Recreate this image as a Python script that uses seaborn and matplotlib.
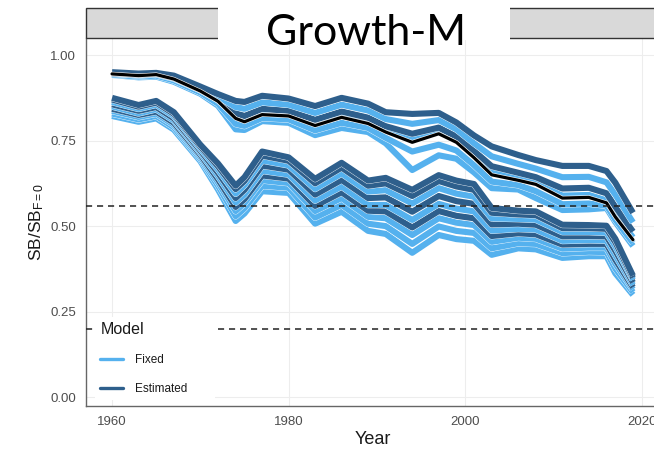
import matplotlib
matplotlib.use("Agg")
import numpy as np
import pandas as pd
import seaborn as sns
import matplotlib.pyplot as plt
from matplotlib import patheffects as pe
from matplotlib.lines import Line2D
from matplotlib.patches import Rectangle

# ---------------- data ----------------
YEARS = [1960, 1963, 1965, 1967, 1970, 1972, 1974, 1975, 1977, 1980, 1983, 1986, 1989,
         1991, 1994, 1997, 1999, 2001, 2003, 2006, 2008, 2011, 2014, 2016, 2017, 2019]

# upper bundle
UP_BASE = [.945, .940, .943, .930, .895, .865, .815, .805, .826, .822, .794, .818, .800,
           .775, .745, .770, .745, .700, .650, .634, .622, .582, .584, .568, .527, .460]
UP_EST_1 = [.950, .946, .948, .940, .908, .886, .866, .863, .881, .873, .851, .875, .858,
            .833, .828, .831, .803, .765, .733, .708, .693, .676, .676, .661, .627, .539]
UP_FIX_1 = [.949, .945, .947, .937, .903, .879, .848, .843, .862, .855, .831, .855, .838,
            .813, .799, .810, .783, .742, .704, .682, .668, .643, .644, .628, .592, .511]
UP_EST_2 = [.947, .943, .946, .934, .899, .871, .830, .822, .843, .837, .811, .835, .817,
            .792, .770, .788, .762, .720, .675, .656, .643, .610, .612, .596, .557, .484]
UP_FIX_2 = [.946, .941, .944, .932, .898, .869, .822, .812, .833, .829, .801, .825, .807,
            .782, .752, .777, .752, .707, .657, .641, .629, .589, .591, .575, .534, .467]
UP_FIX_3 = [.943, .937, .940, .926, .891, .858, .799, .793, .816, .812, .780, .802, .787,
            .758, .718, .738, .721, .678, .630, .620, .602, .564, .566, .560, .519, .451]
UP_FIX_4 = [.942, .935, .937, .922, .887, .852, .783, .781, .807, .802, .766, .787, .775,
            .742, .664, .707, .697, .657, .611, .607, .582, .547, .549, .553, .512, .442]

# lower bundle
LO_EST_1 = [.875, .854, .866, .833, .738, .683, .618, .643, .718, .701, .638, .685, .633,
            .641, .606, .649, .633, .623, .553, .545, .543, .504, .503, .501, .463, .355]
LO_EST_2 = [.870, .849, .861, .828, .733, .675, .608, .632, .706, .691, .625, .671, .618,
            .625, .588, .632, .616, .606, .539, .534, .532, .494, .494, .492, .453, .349]
LO_FIX_1 = [.863, .843, .855, .822, .727, .666, .595, .620, .692, .678, .609, .654, .601,
            .605, .566, .611, .595, .586, .523, .521, .519, .483, .483, .481, .441, .343]
LO_EST_3 = [.856, .837, .848, .815, .721, .656, .582, .606, .677, .665, .592, .635, .582,
            .584, .542, .588, .573, .565, .505, .507, .504, .470, .471, .470, .428, .335]
LO_FIX_2 = [.850, .830, .842, .809, .715, .647, .569, .592, .662, .651, .575, .616, .562,
            .562, .518, .565, .551, .543, .487, .492, .490, .457, .459, .458, .415, .328]
LO_EST_4 = [.843, .825, .835, .802, .709, .637, .556, .579, .648, .639, .559, .599, .545,
            .543, .496, .544, .530, .523, .471, .479, .476, .446, .448, .448, .402, .321]
LO_FIX_3 = [.837, .819, .829, .796, .703, .628, .544, .567, .634, .626, .544, .582, .527,
            .523, .474, .523, .510, .503, .454, .466, .463, .434, .437, .437, .390, .315]
LO_FIX_4 = [.829, .812, .822, .789, .697, .618, .529, .552, .618, .612, .525, .562, .507,
            .500, .448, .499, .486, .480, .435, .450, .448, .421, .425, .424, .376, .307]
LO_FIX_5 = [.822, .805, .815, .782, .690, .607, .515, .537, .602, .597, .507, .542, .486,
            .477, .422, .474, .462, .457, .416, .435, .432, .407, .412, .412, .362, .299]

MODELS = ["Fixed", "Estimated"]
REF_LINES = [0.56, 0.20]
X_TICKS = [1960, 1980, 2000, 2020]
Y_TICKS = [0.00, 0.25, 0.50, 0.75, 1.00]
Y_TICK_LABELS = ["0.00", "0.25", "0.50", "0.75", "1.00"]
TITLE = "Growth-M"

# drawing order (name, model, values)
SERIES = [
    ("lo_f5", "Fixed", LO_FIX_5), ("lo_f4", "Fixed", LO_FIX_4), ("lo_f3", "Fixed", LO_FIX_3),
    ("lo_e4", "Estimated", LO_EST_4), ("lo_f2", "Fixed", LO_FIX_2), ("lo_e3", "Estimated", LO_EST_3),
    ("lo_f1", "Fixed", LO_FIX_1), ("lo_e2", "Estimated", LO_EST_2), ("lo_e1", "Estimated", LO_EST_1),
    ("up_f4", "Fixed", UP_FIX_4), ("up_f3", "Fixed", UP_FIX_3), ("up_f2", "Fixed", UP_FIX_2),
    ("up_e2", "Estimated", UP_EST_2), ("up_f1", "Fixed", UP_FIX_1), ("up_e1", "Estimated", UP_EST_1),
]

rows = []
for name, model, vals in SERIES:
    for yr, v in zip(YEARS, vals):
        rows.append({"run": name, "Model": model, "Year": yr, "SB": v})
df = pd.DataFrame(rows)
base_df = pd.DataFrame({"Year": YEARS, "SB": UP_BASE})

# ---------------- style ----------------
sns.set_theme(style="white")
plt.rcParams["font.family"] = ["Liberation Sans", "DejaVu Sans"]
plt.rcParams["mathtext.fontset"] = "custom"
plt.rcParams["mathtext.rm"] = "Liberation Sans"
plt.rcParams["mathtext.it"] = "Liberation Sans:italic"
plt.rcParams["mathtext.bf"] = "Liberation Sans:bold"

LIGHT = "#55B1EE"
DARK = "#2E5F8C"
PAL = {"Fixed": LIGHT, "Estimated": DARK}

fig = plt.figure(figsize=(6.54, 4.63), dpi=100)
ax = fig.add_axes([86 / 654, (463 - 406) / 463, (659 - 86) / 654, (406 - 38) / 463])

ax.grid(True, color="#EDEDED", lw=0.8)
ax.set_axisbelow(True)

LW = 4.4
for name, model, _ in SERIES:
    sub = df[df["run"] == name]
    sns.lineplot(data=sub, x="Year", y="SB", color=PAL[model], lw=LW, ax=ax,
                 estimator=None, legend=False)
for ln in ax.lines:
    ln.set_path_effects([pe.Stroke(linewidth=LW + 0.5, foreground="white"), pe.Normal()])
    ln.set_solid_joinstyle("round")
    ln.set_solid_capstyle("butt")

sns.lineplot(data=base_df, x="Year", y="SB", color="black", lw=2.3, ax=ax,
             estimator=None, legend=False)
ax.lines[-1].set_path_effects([pe.Stroke(linewidth=3.1, foreground="white"), pe.Normal()])

for yv in REF_LINES:
    ax.axhline(yv, color="#222222", lw=1.1, ls=(0, (4, 3.2)), zorder=3)

ax.set_xlim(1957.05, 2021.95)
ax.set_ylim(-0.026, 1.05)
ax.set_xticks(X_TICKS)
ax.set_yticks(Y_TICKS)
ax.set_yticklabels(Y_TICK_LABELS)
ax.tick_params(axis="both", length=4, width=0.8, color="#555555", labelcolor="#4D4D4D",
               labelsize=9.5, pad=3)
for side in ["top", "right"]:
    ax.spines[side].set_visible(False)
for side in ["left", "bottom"]:
    ax.spines[side].set_color("#666666")
    ax.spines[side].set_linewidth(1.0)

ax.set_xlabel("Year", fontsize=13, color="#1A1A1A", labelpad=2)
ax.set_ylabel(r"SB/SB$_{\mathrm{F=0}}$", fontsize=12.5, color="#1A1A1A", labelpad=3)

handles = [Line2D([0], [0], color=PAL[m], lw=2.4) for m in MODELS]
leg = ax.legend(handles, MODELS, title="Model", loc="upper left",
                bbox_to_anchor=(95 / 654, (463 - 402) / 463, (215 - 95) / 654, (402 - 317) / 463),
                bbox_transform=fig.transFigure, mode="expand",
                frameon=True, facecolor="white", edgecolor="none", framealpha=1, fancybox=False,
                fontsize=8.5, title_fontsize=11.5, handlelength=1.9, handletextpad=1.0,
                labelspacing=1.45, borderpad=0.45, borderaxespad=0, alignment="left")
leg._legend_box.sep = 12
leg.get_title().set_color("#1A1A1A")
for t in leg.get_texts():
    t.set_color("#1A1A1A")
leg.set_zorder(10)

# facet strip and title box
fig.add_artist(Rectangle((86 / 654, (463 - 38) / 463), 1.0, 30 / 463, transform=fig.transFigure,
                         facecolor="#D9D9D9", edgecolor="#333333", lw=1.0, zorder=1))
fig.add_artist(Rectangle((218 / 654, (463 - 40) / 463), (510 - 218) / 654, 40 / 463 + 0.01,
                         transform=fig.transFigure, facecolor="white", edgecolor="none", zorder=2))
fig.text(366 / 654, (463 - 45) / 463, TITLE, fontsize=31, family=["Lato", "DejaVu Sans"],
         ha="center", va="baseline", color="black", zorder=3)

fig.savefig("out.png", dpi=100)
